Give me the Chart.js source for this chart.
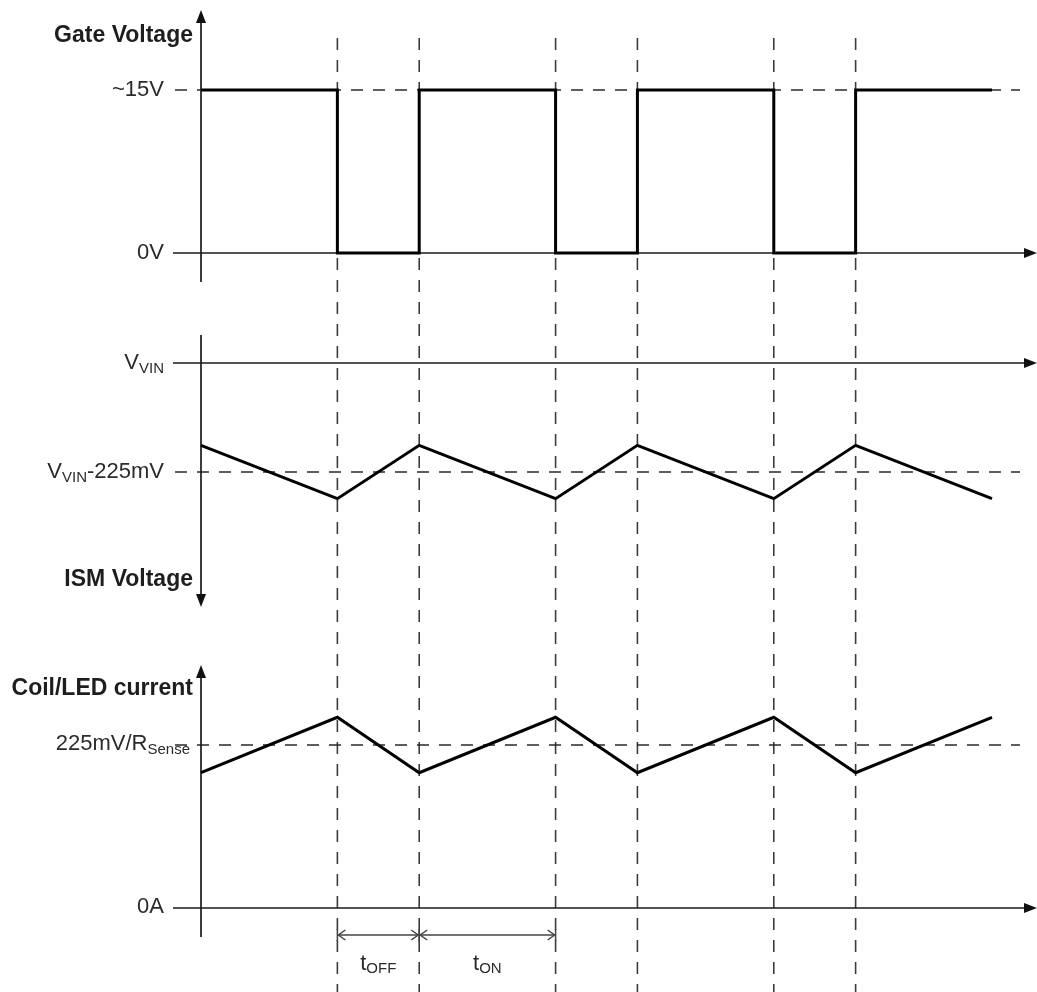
<!DOCTYPE html>
<html>
<head>
<meta charset="utf-8">
<script src="https://cdn.jsdelivr.net/npm/chart.js@4"></script>
<style>
  html,body{margin:0;padding:0;background:#fff;}
  #wrap{width:1037px;height:992px;position:relative;}
</style>
</head>
<body>
<div id="wrap"><canvas id="c"></canvas></div>
<script>
// ---- data (time in arbitrary units: tON = 5, tOFF = 3) ----
const switchTimes = [0, 5, 8, 13, 16, 21, 24, 29];
const gateVolts   = [15, 0, 15, 0, 15, 0, 15, 15];          // V (stepped)
const ismMilliV   = [-170, -280, -170, -280, -170, -280, -170, -280]; // mV relative to VVIN
const coilCurrent = [0.83, 1.17, 0.83, 1.17, 0.83, 1.17, 0.83, 1.17]; // x (225mV/RSense)
const markerTimes = [5, 8, 13, 16, 21, 24];
const gateTicks = [{v:15, main:'~15V'}, {v:0, main:'0V'}];
const ismTicks  = [{v:0, main:'V', sub:'VIN'}, {v:-225, main:'V', sub:'VIN', tail:'-225mV'}];
const curTicks  = [{v:1, main:'225mV/R', sub:'Sense'}, {v:0, main:'0A'}];
const titles = ['Gate Voltage', 'ISM Voltage', 'Coil/LED current'];

const W = 1037, H = 992;
function yRange(v1, p1, v2, p2){ const k=(v2-v1)/(p2-p1); return {min: v1+(H-p1)*k, max: v1+(0-p1)*k}; }
function xRange(v1, p1, v2, p2){ const k=(v2-v1)/(p2-p1); return {min: v1+(0-p1)*k, max: v1+(W-p1)*k}; }
const xr = xRange(0, 201, 29, 992);
const gr = yRange(15, 90, 0, 253);
const mr = yRange(0, 363, -225, 472);
const cr = yRange(1, 745, 0, 908);

function pts(ys){ return switchTimes.map((t,i)=>({x:t, y:ys[i]})); }

function line(ctx,x1,y1,x2,y2){ ctx.beginPath(); ctx.moveTo(x1,y1); ctx.lineTo(x2,y2); ctx.stroke(); }
function tri(ctx, tipX, tipY, dir){
  const L=13, w=5; ctx.beginPath();
  if(dir==='up'){ ctx.moveTo(tipX,tipY); ctx.lineTo(tipX-w,tipY+L); ctx.lineTo(tipX+w,tipY+L); }
  if(dir==='down'){ ctx.moveTo(tipX,tipY); ctx.lineTo(tipX-w,tipY-L); ctx.lineTo(tipX+w,tipY-L); }
  if(dir==='right'){ ctx.moveTo(tipX,tipY); ctx.lineTo(tipX-L,tipY-w); ctx.lineTo(tipX-L,tipY+w); }
  ctx.closePath(); ctx.fill();
}
const MAIN = '22px "Liberation Sans", Arial, sans-serif';
const SUB  = '15px "Liberation Sans", Arial, sans-serif';
function subLabel(ctx, item, right, y){
  ctx.font=MAIN; const wm=ctx.measureText(item.main).width;
  ctx.font=SUB;  const ws=item.sub?ctx.measureText(item.sub).width:0;
  ctx.font=MAIN; const wt=item.tail?ctx.measureText(item.tail).width:0;
  let x = right - (wm+ws+wt);
  ctx.textAlign='left'; ctx.textBaseline='middle';
  ctx.font=MAIN; ctx.fillText(item.main, x, y); x+=wm;
  if(item.sub){ ctx.font=SUB; ctx.fillText(item.sub, x, y+6); x+=ws; }
  if(item.tail){ ctx.font=MAIN; ctx.fillText(item.tail, x, y); }
}

const diagram = {
  id:'diagram',
  beforeDatasetsDraw(chart){
    const ctx=chart.ctx, sx=chart.scales.x, g=chart.scales.yGate, m=chart.scales.yIsm, c=chart.scales.yCur;
    const x0 = sx.getPixelForValue(0);
    ctx.save();
    ctx.strokeStyle='#3c3c3c'; ctx.lineWidth=1.6; ctx.setLineDash([12,10]);
    markerTimes.forEach(t=>{ const px=sx.getPixelForValue(t); line(ctx,px,38,px,H); });
    ctx.strokeStyle='#2a2a2a';
    [g.getPixelForValue(15), m.getPixelForValue(-225), c.getPixelForValue(1)].forEach(py=>line(ctx,175,py,1020,py));
    ctx.setLineDash([]);
    ctx.strokeStyle='#1a1a1a'; ctx.fillStyle='#111'; ctx.lineWidth=1.7;
    line(ctx,x0,20,x0,282); tri(ctx,x0,10,'up');
    line(ctx,x0,335,x0,597); tri(ctx,x0,607,'down');
    line(ctx,x0,675,x0,937); tri(ctx,x0,665,'up');
    [g.getPixelForValue(0), m.getPixelForValue(0), c.getPixelForValue(0)].forEach(py=>{
      line(ctx,173,py,1026,py); tri(ctx,1037,py,'right');
    });
    ctx.fillStyle='#2b2b2b';
    gateTicks.forEach(t=>subLabel(ctx,t,164,g.getPixelForValue(t.v)));
    ismTicks.forEach(t=>subLabel(ctx,t,164,m.getPixelForValue(t.v)));
    curTicks.forEach(t=>subLabel(ctx,t,t.sub?190:164,c.getPixelForValue(t.v)-1));
    ctx.fillStyle='#1e1e1e'; ctx.font='bold 23px "Liberation Sans", Arial, sans-serif';
    ctx.textAlign='right'; ctx.textBaseline='middle';
    ctx.fillText(titles[0],193,36);
    ctx.fillText(titles[1],193,580);
    ctx.fillText(titles[2],193,689);
    const ya=935;
    const pA=sx.getPixelForValue(markerTimes[0]), pB=sx.getPixelForValue(markerTimes[1]), pC=sx.getPixelForValue(markerTimes[2]);
    ctx.strokeStyle='#444'; ctx.lineWidth=1.5;
    [[pA,pB],[pB,pC]].forEach(([a,b])=>{
      line(ctx,a,ya,b,ya);
      line(ctx,a,ya-6,a,ya+6); line(ctx,b,ya-6,b,ya+6);
      ctx.beginPath(); ctx.moveTo(a+8,ya-5); ctx.lineTo(a+1,ya); ctx.lineTo(a+8,ya+5); ctx.stroke();
      ctx.beginPath(); ctx.moveTo(b-8,ya-5); ctx.lineTo(b-1,ya); ctx.lineTo(b-8,ya+5); ctx.stroke();
    });
    ctx.fillStyle='#2b2b2b';
    const lab=(txt,sub,cx,y)=>{
      ctx.font=MAIN; const w1=ctx.measureText(txt).width; ctx.font=SUB; const w2=ctx.measureText(sub).width;
      let x=cx-(w1+w2)/2; ctx.textAlign='left'; ctx.textBaseline='middle';
      ctx.font=MAIN; ctx.fillText(txt,x,y); ctx.font=SUB; ctx.fillText(sub,x+w1,y+5);
    };
    lab('t','OFF',(pA+pB)/2,964);
    lab('t','ON',(pB+pC)/2,964);
    ctx.restore();
  }
};

const common = {borderColor:'#000', borderWidth:3, pointRadius:0, fill:false, tension:0, borderJoinStyle:'miter'};
new Chart(document.getElementById('c'), {
  type:'line',
  data:{ datasets:[
    Object.assign({label:'Gate Voltage', data:pts(gateVolts), yAxisID:'yGate', stepped:true}, common),
    Object.assign({label:'ISM Voltage', data:pts(ismMilliV), yAxisID:'yIsm'}, common),
    Object.assign({label:'Coil/LED current', data:pts(coilCurrent), yAxisID:'yCur'}, common)
  ]},
  options:{
    responsive:true, maintainAspectRatio:false, animation:false,
    layout:{padding:0},
    plugins:{legend:{display:false}, tooltip:{enabled:false}},
    events:[],
    scales:{
      x:{type:'linear', display:false, min:xr.min, max:xr.max},
      yGate:{type:'linear', display:false, min:gr.min, max:gr.max},
      yIsm:{type:'linear', display:false, min:mr.min, max:mr.max},
      yCur:{type:'linear', display:false, min:cr.min, max:cr.max}
    }
  },
  plugins:[diagram]
});
</script>
</body>
</html>
